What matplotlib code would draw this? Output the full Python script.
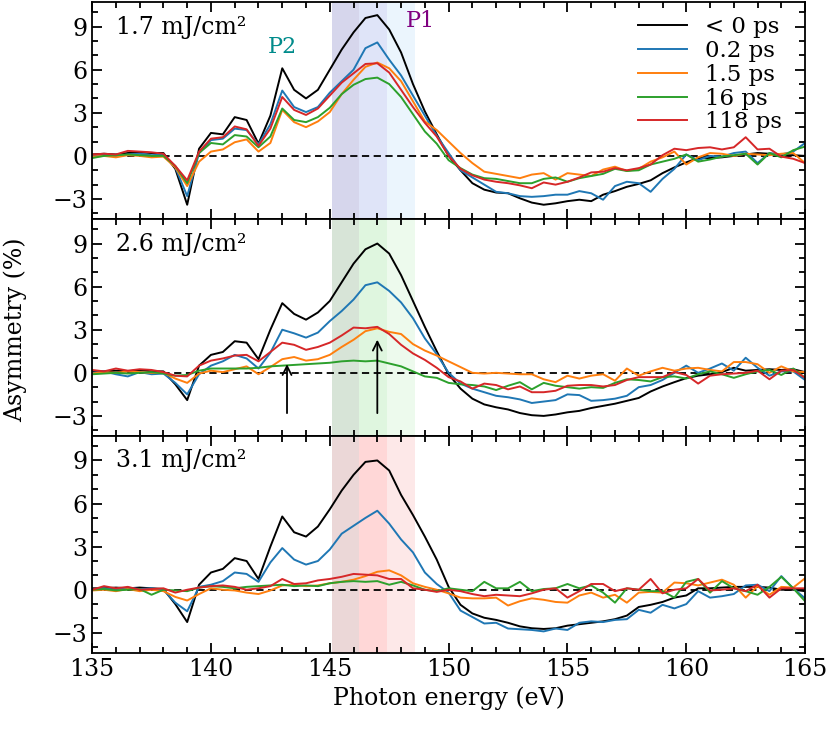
import matplotlib
matplotlib.use("Agg")
import matplotlib.pyplot as plt
import matplotlib.ticker as ticker
import numpy as np

plt.rcParams["font.family"] = ["DejaVu Serif"]
plt.rcParams["mathtext.fontset"] = "dejavuserif"

# photon energy grid (eV)
energy = [
    135.0, 135.5, 136.0, 136.5, 137.0, 137.5, 138.0, 138.5, 139.0, 139.5,
    140.0, 140.5, 141.0, 141.5, 142.0, 142.5, 143.0, 143.5, 144.0, 144.5,
    145.0, 145.5, 146.0, 146.5, 147.0, 147.5, 148.0, 148.5, 149.0, 149.5,
    150.0, 150.5, 151.0, 151.5, 152.0, 152.5, 153.0, 153.5, 154.0, 154.5,
    155.0, 155.5, 156.0, 156.5, 157.0, 157.5, 158.0, 158.5, 159.0, 159.5,
    160.0, 160.5, 161.0, 161.5, 162.0, 162.5, 163.0, 163.5, 164.0, 164.5,
    165.0,
]

delays = ["< 0 ps", "0.2 ps", "1.5 ps", "16 ps", "118 ps"]
colors = ["black", "#1f77b4", "#ff7f0e", "#2ca02c", "#d62728"]
fluences = ["1.7 mJ/cm²", "2.6 mJ/cm²", "3.1 mJ/cm²"]

# ---- 1.7 mJ/cm2 ----
f17_neg = [
    0.1, 0.15, 0.1, 0.2, 0.25, 0.2, 0.2, -0.9, -3.4, 0.5,
    1.6, 1.5, 2.7, 2.5, 0.85, 2.8, 6.1, 4.6, 4.0, 4.6,
    6.0, 7.4, 8.6, 9.6, 9.8, 8.8, 7.2, 5.0, 3.1, 1.5,
    0.0, -1.0, -1.9, -2.35, -2.55, -2.6, -2.95, -3.25, -3.4, -3.3,
    -3.15, -3.05, -3.15, -2.7, -2.45, -2.15, -1.95, -1.7, -1.2, -0.8,
    -0.45, -0.15, -0.15, -0.1, 0.0, 0.1, 0.2, 0.15, 0.05, 0.05,
    0.0,
]
f17_02 = [
    0.0, 0.1, -0.05, 0.1, 0.15, 0.05, 0.1, -0.8, -2.8, 0.2,
    1.1, 1.2, 1.9, 1.8, 0.8, 2.2, 4.55, 3.4, 3.05, 3.4,
    4.4, 5.2, 6.0, 7.5, 7.9, 6.7, 5.6, 4.2, 2.8, 1.4,
    0.2, -1.0, -1.5, -2.0, -2.5, -2.6, -2.8, -2.85, -2.8, -2.7,
    -2.7, -2.45, -2.6, -3.05, -2.1, -1.8, -1.9, -2.5, -1.6, -0.9,
    0.1, -0.3, 0.0, -0.05, 0.2, 0.3, -0.5, 0.2, 0.1, 0.3,
    0.9,
]
f17_15 = [
    -0.05, 0.0, -0.1, 0.05, 0.0, -0.1, -0.05, -0.8, -2.1, -0.4,
    0.3, 0.45, 0.95, 1.15, 0.3, 0.9, 3.2, 2.35, 2.0, 2.4,
    3.05, 4.3, 5.3, 6.2, 6.5, 6.1, 5.2, 3.8, 2.4, 1.8,
    1.0, 0.2, -0.5, -1.1, -1.25, -1.4, -1.55, -1.3, -1.2, -1.65,
    -1.2, -1.3, -1.4, -0.95, -0.75, -1.05, -0.9, -0.4, -0.1, 0.3,
    -0.6, -0.1, 0.2, 0.15, 0.0, 0.15, 0.1, 0.05, 0.15, 0.2,
    -0.5,
]
f17_16 = [
    -0.15, 0.0, 0.05, 0.1, 0.05, 0.0, 0.0, -0.7, -1.9, 0.2,
    0.9, 0.8, 1.45, 1.35, 0.6, 1.35, 3.3, 2.5, 2.35, 2.7,
    3.35, 4.3, 4.95, 5.35, 5.45, 5.0, 4.1, 2.9, 1.7, 0.85,
    -0.3, -0.85, -1.3, -1.55, -1.6, -1.75, -1.9, -1.9, -1.6, -1.5,
    -1.8, -1.55, -1.4, -1.25, -0.9, -1.05, -1.0, -0.6, -0.4, -0.2,
    0.1, -0.4, -0.25, -0.05, 0.05, 0.15, -0.6, 0.2, -0.1, 0.4,
    0.65,
]
f17_118 = [
    0.1, 0.15, 0.1, 0.35, 0.3, 0.25, 0.15, -0.7, -1.7, 0.3,
    1.2, 1.3, 2.05, 1.85, 0.7, 1.9, 4.1, 3.2, 2.85, 3.3,
    4.2, 5.1, 5.75, 6.4, 6.45, 5.8, 4.6, 3.4, 2.3, 1.35,
    0.0, -0.9, -1.35, -1.65, -1.8, -1.9, -2.05, -2.25, -1.85, -2.0,
    -1.8, -1.5, -1.15, -1.1, -0.85, -1.0, -0.85, -0.6, 0.05, 0.5,
    0.4, 0.55, 0.6, 0.45, 0.6, 1.3, 0.45, 0.5, -0.05, -0.2,
    -0.5,
]

# ---- 2.6 mJ/cm2 ----
f26_neg = [
    0.1, 0.1, 0.15, 0.1, 0.2, 0.1, 0.1, -0.8, -1.9, 0.5,
    1.25, 1.45, 2.2, 2.1, 0.95, 3.0, 4.85, 4.1, 3.7, 4.2,
    5.0, 6.3, 7.6, 8.6, 9.0, 8.3, 6.8, 5.0, 3.2, 1.5,
    -0.1, -1.1, -1.8, -2.2, -2.4, -2.55, -2.8, -2.95, -3.0, -2.9,
    -2.75, -2.65, -2.45, -2.3, -2.15, -1.95, -1.75, -1.3, -0.95, -0.65,
    -0.37, -0.2, -0.1, 0.05, 0.35, 0.15, 0.2, 0.25, 0.2, 0.25,
    0.05,
]
f26_02 = [
    0.0, 0.1, -0.1, -0.25, 0.05, -0.1, -0.05, -0.7, -1.5, -0.1,
    0.5, 0.8, 1.25, 1.0, 0.3, 1.4, 3.0, 2.75, 2.45, 2.8,
    3.6, 4.3, 5.1, 6.1, 6.3, 5.7, 4.9, 3.8, 2.4, 1.3,
    0.0, -0.75, -1.1, -1.35, -1.6, -1.7, -1.85, -2.1, -2.0, -1.9,
    -1.5, -1.55, -1.95, -1.9, -1.8, -1.6, -1.0, -0.85, -0.5, 0.0,
    0.5, 0.0, 0.3, 0.65, 0.15, 1.05, 0.35, -0.2, 0.1, 0.1,
    -0.5,
]
f26_15 = [
    -0.05, 0.05, 0.0, 0.1, 0.05, 0.0, 0.0, -0.4, -0.7, -0.05,
    0.15, 0.05, 0.25, 0.45, -0.1, 0.4, 0.95, 1.1, 0.85, 0.95,
    1.25, 1.8, 2.3, 2.9, 3.1, 2.85, 2.7, 2.0, 1.55, 1.2,
    0.8, 0.4, 0.0, -0.05, 0.0, -0.05, -0.1, -0.1, -0.45, -0.65,
    -0.2, -0.4, -0.2, -0.1, -0.55, 0.3, -0.2, 0.1, 0.35, 0.15,
    0.3, 0.35, 0.2, 0.1, 0.75, 0.75, 0.6, 0.0, 0.45, 0.1,
    0.05,
]
f26_16 = [
    -0.1, -0.05, 0.0, -0.05, 0.0, 0.05, -0.05, -0.2, -0.15, 0.15,
    0.3, 0.3, 0.3, 0.3, 0.35, 0.45, 0.5, 0.55, 0.6, 0.65,
    0.7, 0.8, 0.85, 0.8, 0.85, 0.65, 0.45, 0.1, -0.25, -0.35,
    -0.7, -0.8, -0.85, -0.95, -1.2, -0.9, -0.65, -1.15, -0.7, -0.9,
    -1.0, -1.1, -1.0, -1.05, -0.7, -0.45, -0.5, -0.6, -0.3, -0.25,
    -0.4, -0.1, 0.1, -0.1, -0.35, -0.1, 0.1, 0.2, -0.15, 0.3,
    -0.35,
]
f26_118 = [
    0.2, 0.1, 0.3, 0.15, 0.25, 0.2, 0.05, -0.2, -0.25, 0.5,
    0.85, 1.0, 1.2, 1.25, 0.8, 1.45, 2.1, 1.95, 1.6, 1.8,
    2.1, 2.6, 3.15, 3.1, 3.2, 2.7, 1.95, 1.35, 0.9, 0.35,
    -0.3, -0.6, -1.1, -0.75, -0.85, -1.15, -0.95, -1.35, -1.35, -1.25,
    -0.9, -0.85, -0.85, -0.95, -0.85, -0.5, -0.3, -0.3, -0.3, 0.05,
    -0.15, -0.75, -0.2, -0.1, -0.05, 0.0, 0.15, -0.45, 0.15, 0.2,
    -0.35,
]

# ---- 3.1 mJ/cm2 ----
f31_neg = [
    0.1, 0.1, 0.15, 0.1, 0.15, 0.1, 0.05, -1.0, -2.25, 0.35,
    1.2, 1.45, 2.2, 2.0, 0.75, 3.0, 5.1, 4.0, 3.7, 4.4,
    5.6, 6.9, 8.0, 8.9, 9.0, 8.3, 6.6, 5.2, 3.7, 2.1,
    0.2, -1.05, -1.65, -1.95, -2.1, -2.3, -2.55, -2.68, -2.73, -2.68,
    -2.5, -2.4, -2.3, -2.2, -2.05, -1.8, -1.2, -1.05, -0.85, -0.55,
    -0.4, 0.1, 0.1, 0.15, 0.2, 0.2, 0.2, 0.15, 0.0, 0.0,
    -0.1,
]
f31_02 = [
    0.0, 0.1, 0.0, 0.15, 0.05, 0.1, 0.0, -0.9, -1.5, 0.2,
    0.35, 0.6, 1.2, 1.1, 0.55, 1.9, 2.9, 2.1, 1.75, 2.0,
    2.8, 3.9, 4.45, 5.0, 5.5, 4.6, 3.5, 2.6, 1.2, 0.4,
    -0.2, -1.45, -1.9, -2.35, -2.3, -2.7, -2.75, -2.8, -2.9, -2.7,
    -2.8, -2.3, -2.2, -2.25, -2.1, -2.05, -1.4, -1.6, -1.05, -1.3,
    -1.0, -0.1, -0.55, -0.45, -0.3, 0.3, 0.35, -0.1, 0.95, 0.1,
    -0.6,
]
f31_15 = [
    -0.05, 0.0, -0.1, 0.05, -0.1, 0.0, -0.1, -0.5, -0.75, -0.3,
    0.1, 0.0, -0.05, -0.2, -0.3, -0.05, 0.3, 0.35, 0.25, 0.3,
    0.45, 0.55, 0.7, 0.95, 1.25, 1.35, 1.0, 0.45, 0.2, 0.0,
    -0.25, -0.55, -0.6, -0.6, -0.55, -1.1, -0.8, -0.6, -0.7, -0.85,
    -0.9, -0.4, -0.2, -0.55, -0.35, -0.9, -0.2, -0.15, -0.2, 0.5,
    0.45, 0.3, 0.5, 0.7, 0.35, -0.55, 0.25, -0.35, 0.2, 0.15,
    0.8,
]
f31_16 = [
    0.0, 0.05, -0.05, 0.0, 0.05, -0.35, 0.0, -0.05, -0.1, 0.15,
    0.25, 0.2, 0.1, 0.2, 0.25, 0.3, 0.35, 0.25, 0.3, 0.25,
    0.45, 0.55, 0.6, 0.55, 0.6, 0.35, 0.55, 0.3, 0.0, -0.1,
    0.1, 0.0, -0.1, 0.55, 0.1, 0.1, 0.55, -0.1, 0.05, 0.1,
    0.4, 0.1, 0.3, -0.2, -0.9, 0.1, 0.0, -0.1, -0.1, -0.55,
    0.55, 0.75, -0.2, 0.6, 0.1, -0.1, -0.35, 0.2, 0.9, 0.1,
    -0.8,
]
f31_118 = [
    0.0, 0.25, 0.1, 0.2, 0.0, 0.05, 0.1, -0.2, 0.0, 0.15,
    0.25, 0.3, 0.2, 0.0, 0.1, 0.25, 0.75, 0.4, 0.45, 0.65,
    0.75, 0.9, 1.1, 1.05, 1.0, 0.75, 0.75, 0.1, 0.0, -0.15,
    0.0, -0.1, -0.3, -0.45, -0.35, -0.4, -0.45, -0.25, 0.0, 0.1,
    -0.55, -0.1, 0.4, 0.4, -0.1, 0.1, 0.0, 0.75, -0.25, 0.0,
    0.1, 0.75, -0.05, 0.0, 0.1, -0.1, 0.35, -0.55, 0.1, 0.1,
    0.1,
]

panels = [
    [f17_neg, f17_02, f17_15, f17_16, f17_118],
    [f26_neg, f26_02, f26_15, f26_16, f26_118],
    [f31_neg, f31_02, f31_15, f31_16, f31_118],
]

# shaded integration windows
band_edges = [145.1, 146.25, 147.4, 148.6]
band_colors = [
    ["#d6d6ec", "#dfe4f8", "#ebf5fd"],
    ["#d7e4d7", "#dff6df", "#edfaed"],
    ["#ebd7d7", "#ffd7d7", "#fde8e8"],
]

FS = 17

fig, axes = plt.subplots(3, 1, figsize=(8.3, 7.32), dpi=100, sharex=True)
fig.subplots_adjust(left=0.111, right=0.970, top=0.997, bottom=0.108, hspace=0)

for k, ax in enumerate(axes):
    for j in range(3):
        ax.axvspan(band_edges[j], band_edges[j + 1], color=band_colors[k][j],
                   lw=0, zorder=0)
    ax.axhline(0, color="black", ls="--", lw=1.3, dashes=(4, 2.5), zorder=1)
    for ys, c, lbl in zip(panels[k], colors, delays):
        ax.plot(energy, ys, color=c, lw=1.4, label=lbl, zorder=2)

    ax.text(0.034, 0.885, fluences[k], transform=ax.transAxes, fontsize=FS,
            va="center", ha="left")
    ax.set_xlim(135, 165)
    ax.set_ylim(-4.4, 10.7)
    ax.set_yticks([-3, 0, 3, 6, 9])
    ax.yaxis.set_minor_locator(ticker.MultipleLocator(1))
    ax.xaxis.set_major_locator(ticker.MultipleLocator(5))
    ax.xaxis.set_minor_locator(ticker.MultipleLocator(1))
    ax.tick_params(which="both", direction="in", top=True, right=True,
                   labelsize=FS, width=1.3)
    ax.tick_params(which="major", length=7)
    ax.tick_params(which="minor", length=4)
    for sp in ax.spines.values():
        sp.set_linewidth(1.3)

axes[0].text(143.0, 7.6, "P2", color="darkcyan", fontsize=FS - 1, ha="center", va="center")
axes[0].text(148.8, 9.4, "P1", color="purple", fontsize=FS - 1, ha="center", va="center")
axes[0].legend(loc="upper right", bbox_to_anchor=(0.99, 1.01), frameon=False,
               fontsize=16.5, handlelength=2.1, labelspacing=0.08,
               borderaxespad=0.3, handletextpad=0.8)

arrow = dict(arrowstyle="->", color="black", lw=1.3, mutation_scale=16)
axes[1].annotate("", xy=(143.2, 0.8), xytext=(143.2, -3.0), arrowprops=arrow)
axes[1].annotate("", xy=(147.0, 2.5), xytext=(147.0, -3.0), arrowprops=arrow)

axes[2].set_xlabel("Photon energy (eV)", fontsize=FS)
fig.text(0.018, 0.55, "Asymmetry (%)", rotation=90, fontsize=FS,
         ha="center", va="center")

fig.savefig("out.png", dpi=100)
